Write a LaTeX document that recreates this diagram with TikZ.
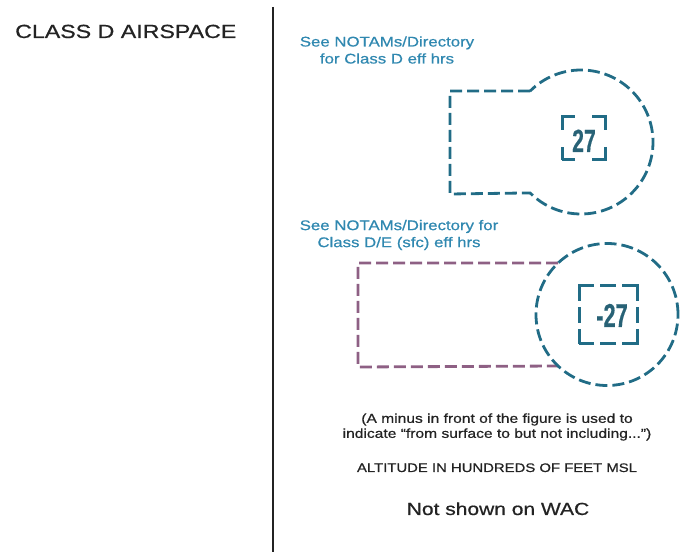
\documentclass[tikz,border=0pt]{standalone}
\usepackage{fontspec}
\setmainfont{Liberation Sans}[FakeBold=0.6]

\definecolor{chartteal}{RGB}{33,108,134}
\definecolor{figteal}{RGB}{40,98,118}
\definecolor{noteblue}{RGB}{48,136,176}
\definecolor{chartpurple}{RGB}{142,96,132}
\definecolor{inkgray}{RGB}{35,35,35}

\newcommand{\wide}[1]{\scalebox{1.2}[1]{#1}}
\newcommand{\slim}[1]{\scalebox{0.66}[1]{#1}}

\begin{document}
\begin{tikzpicture}[x=1pt, y=1pt,
    limit/.style={line width=2.8pt, dash pattern=on 12pt off 5pt},
    figbox/.style={line width=3pt, chartteal},
    note/.style={inner sep=0pt, align=center, text=noteblue,
        font=\fontsize{14}{17}\selectfont},
    legend/.style={inner sep=0pt, align=center, text=inkgray}]
    \useasboundingbox (0,0) rectangle (681,552);

    % 1. Separator and heading
    \draw[line width=1.6pt, inkgray] (273,545) -- (273,0);
    \node[anchor=base west, inner sep=0pt, text=inkgray,
        font=\fontsize{19}{22}\selectfont] (title) at (15,514)
        {\scalebox{1.22}[1]{CLASS D AIRSPACE}};

    % 2. Class D: part-time surface area
    \node[note] (noteD) at (387,502)
        {\wide{See NOTAMs/Directory}\\ \wide{for Class D eff hrs}};
    \coordinate (cD) at (581,410);
    \draw[limit, chartteal] ([shift={(135:72)}]cD) -- (450,461) -- (450,358)
        -- ([shift={(225:72)}]cD) arc[start angle=225, end angle=495, radius=72];
    \draw[figbox, dash pattern=on 26pt off 17pt, dash phase=13pt]
        (562,392) rectangle (605,435);
    \node[anchor=base, inner sep=0pt, text=figteal,
        font=\fontsize{32}{32}\bfseries] (figD) at (584,400) {\slim{27}};

    % 3. Class D/E: surface area with extension
    \node[note] (noteDE) at (399,317)
        {\wide{See NOTAMs/Directory for}\\ \wide{Class D/E (sfc) eff hrs}};
    \coordinate (cDE) at (607,237.5);
    \draw[limit, chartpurple] ([shift={(133.5:71)}]cDE) -- (358,289) -- (358,185)
        -- ([shift={(226.5:71)}]cDE);
    \draw[limit, chartteal] (cDE) circle[radius=71];
    \draw[figbox, dash pattern=on 30pt off 6pt on 16pt off 6pt, dash phase=15pt]
        (579,208) rectangle (637,266);
    \node[anchor=base, inner sep=0pt, text=figteal,
        font=\fontsize{33}{33}\bfseries] (figDE) at (612,225) {\slim{-27}};

    % 4. Legend texts
    \node[legend, font=\fontsize{13}{15}\selectfont] (minus) at (497,125)
        {\wide{(A minus in front of the figure is used to}\\
         \wide{indicate “from surface to but not including...”)}};
    \node[legend, anchor=base, font=\fontsize{12.4}{15}\selectfont] (alt) at (497,80)
        {\wide{ALTITUDE IN HUNDREDS OF FEET MSL}};
    \node[legend, anchor=base, font=\fontsize{17.5}{20}\selectfont] (wac) at (498,37)
        {\wide{Not shown on WAC}};
\end{tikzpicture}
\end{document}
